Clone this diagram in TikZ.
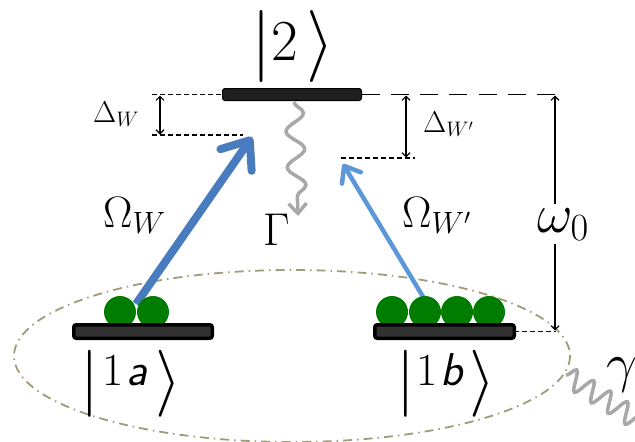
\RequirePackage{fix-cm}
\documentclass[tikz,border=0pt]{standalone}
\usetikzlibrary{arrows.meta,decorations.pathmorphing}
\definecolor{barfill}{RGB}{50,50,50}
\definecolor{atomgreen}{RGB}{0,125,0}
\definecolor{pumpW}{RGB}{72,124,190}
\definecolor{pumpWp}{RGB}{92,152,215}
\definecolor{ellcol}{RGB}{160,155,120}
\definecolor{wavecol}{RGB}{168,168,168}
\newcommand{\fsz}[1]{\fontsize{#1}{#1}\selectfont}
\tikzset{
  level/.style={draw=black, fill=barfill, rounded corners=2.5pt, inner sep=0pt, outer sep=0pt},
  atom/.style={circle, fill=atomgreen, minimum size=32pt, inner sep=0pt},
  finedash/.style={line width=1.6pt, dash pattern=on 5pt off 3pt},
  longdash/.style={line width=1.8pt, dash pattern=on 18pt off 11.3pt},
  gaparrow/.style={line width=1.1pt, {Straight Barb[length=4pt,width=8pt]}-{Straight Barb[length=4pt,width=8pt]}},
  wavy/.style={draw=wavecol, line width=3.5pt, decorate},
  lbl/.style={inner sep=0pt, anchor=base west},
}
\begin{document}
\begin{tikzpicture}[x=1pt,y=-1pt]
\useasboundingbox (0,0) rectangle (635,442);
\clip (0,0) rectangle (635,442);
% trapping ellipse
\draw[color=ellcol, line width=1.8pt, dash pattern=on 9pt off 5pt on 1.5pt off 5pt] (292,356) ellipse [x radius=278, y radius=86];
% levels
\node[level, line width=1pt, fill=black!88, minimum width=139pt, minimum height=12pt] (L2) at (292,94.5) {};
\coordinate (dWtop) at (152,94.5);
\coordinate (dWlowL) at (152,135);
\coordinate (dWlowR) at (243,135);
\coordinate (dWpL) at (341,158);
\coordinate (dWpR) at (415,158);
\coordinate (wTop) at (556,94.5);
\coordinate (wBot) at (556,331.5);
\coordinate (aW1) at (160,95.5);
\coordinate (aW2) at (160,134.5);
\coordinate (aWp1) at (406,95.5);
\coordinate (aWp2) at (406,157.5);
\coordinate (aw1) at (555,95.5);
\coordinate (aw2) at (555,330.5);
\draw[finedash] (dWtop) -- (L2.west);
\draw[finedash] (dWlowL) -- (dWlowR);
\draw[finedash] (dWpL) -- (dWpR);
\draw[longdash] (L2.east) -- (wTop);
\draw[gaparrow] (aW1) -- (aW2);
\draw[gaparrow] (aWp1) -- (aWp2);
\draw[gaparrow] (aw1) -- (aw2);
% pump arrows
\coordinate (pWs) at (136,304);
\coordinate (pWe) at (252,137);
\coordinate (pWps) at (425,300);
\coordinate (pWpe) at (343,164);
\draw[pumpW, line width=8pt, -{Straight Barb[length=24pt,width=38pt,line cap=round,line join=round]}] (pWs) -- (pWe);
\draw[pumpWp, line width=4.5pt, -{Straight Barb[length=14pt,width=22pt,line cap=round,line join=round]}] (pWps) -- (pWpe);
% atoms
\node[atom] (a1) at (120,312) {};
\node[atom] (a2) at (153,312) {};
\node[atom] (b1) at (392,312) {};
\node[atom] (b2) at (425,312) {};
\node[atom] (b3) at (457,312) {};
\node[atom] (b4) at (489,312) {};
\node[level, line width=3.5pt, minimum width=138.5pt, minimum height=13.5pt] (L1a) at (143,331.5) {};
\node[level, line width=3.5pt, minimum width=139.5pt, minimum height=13.5pt] (L1b) at (444.5,331.5) {};
\draw[finedash] (L1b.east) -- (wBot);
% decay waves
\coordinate (gS) at (294,102);
\coordinate (gE) at (298,216);
\draw[wavy, decoration={snake, amplitude=9pt, segment length=36pt, post length=14pt}, -{Straight Barb[length=10pt,width=18pt]}] (gS) -- (gE);
\coordinate (gamS) at (566,375);
\coordinate (gamE) at (650,428);
\draw[wavy, decoration={snake, amplitude=10pt, segment length=20pt}] (gamS) -- (gamE);
% labels
\node[lbl] (k2) at (251.5,60) {\rmfamily\raisebox{-4pt}{\fsz{72}$|$}\fsz{58}2\hspace{8pt}\raisebox{-4pt}{\fsz{72}$\rangle$}};
\node[lbl] (k1a) at (80.7,385) {\rmfamily\raisebox{-15pt}{\fsz{67}$|$}\fsz{46}\hspace{3pt}1\hspace{3pt}{\sffamily\itshape a}\hspace{8pt}\raisebox{-15pt}{\fsz{67}$\rangle$}};
\node[lbl] (k1b) at (396,385) {\rmfamily\raisebox{-15pt}{\fsz{67}$|$}\fsz{46}\hspace{2pt}1\hspace{3pt}{\sffamily\itshape b}\hspace{6pt}\raisebox{-15pt}{\fsz{67}$\rangle$}};
\node[lbl, font=\fsz{30}] (dW) at (93,122) {$\Delta_W$};
\node[lbl, font=\fsz{30}] (dWp) at (423,132) {$\Delta_{W'}$};
\node[lbl, font=\fsz{44}] (oW) at (103,227) {$\Omega_W$};
\node[lbl, font=\fsz{44}] (oWp) at (402,227) {$\Omega_{W'}$};
\node[lbl, font=\fsz{46}] (G) at (263,245) {$\Gamma$};
\node[lbl, font=\fsz{55}] (g) at (606,381) {$\gamma$};
\node[lbl, font=\fsz{55}, fill=white, inner sep=4pt] (w0) at (533,232) {$\omega_0$};
\end{tikzpicture}
\end{document}
